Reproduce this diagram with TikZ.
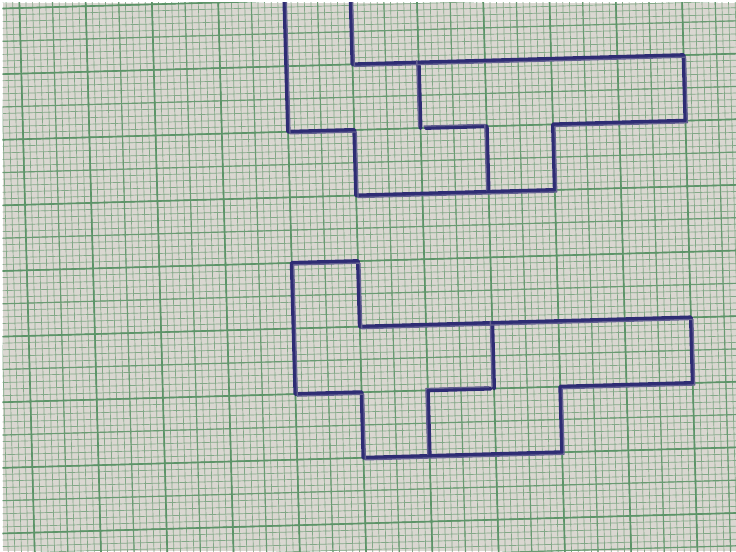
\documentclass[tikz,border=0pt]{standalone}
\usepackage{xcolor}
\usepackage{tikz}

\definecolor{paper}{RGB}{218,215,209}
\definecolor{gridgreen}{RGB}{92,148,104}
\definecolor{ink}{RGB}{46,44,116}

\begin{document}
\begin{tikzpicture}[
  finegrid/.style={draw=gridgreen!70!paper,line width=0.3pt},
  midgrid/.style={draw=gridgreen!90!paper,line width=0.5pt},
  majorgrid/.style={draw=gridgreen,line width=0.7pt},
  penline/.style={draw=ink,line width=1.7pt,line join=round,line cap=round},
  penthin/.style={draw=ink!70!paper,line width=0.6pt,line join=round,line cap=round}
]
\useasboundingbox (0,0) rectangle (11.22,8.40);
\fill[white] (0,0) rectangle (11.22,8.40);
\fill[paper] (0.04,0) rectangle (11.22,8.36);

\begin{scope}
\clip (0.04,0) rectangle (11.22,8.36);
\begin{scope}[shift={(5.457,4.42)},rotate=1.6,xscale=1.01]
% graph paper
\draw[finegrid,step=0.1] (-7,-6) grid (7,6);
\draw[midgrid,step=0.5] (-7,-6) grid (7,6);
\draw[majorgrid,step=1] (-7,-6) grid (7,6);

% upper figure
\draw[penline] (-1,4.3) -- (-1,2) -- (0,2) -- (0,1) -- (3,1) -- (3,2) -- (5,2) -- (5,3) -- (0,3) -- (0,4.3);
\draw[penline] (1,3) -- (1,2);
\draw[penline] (1.08,2) -- (2,2) -- (2,1);
\draw[penthin,xshift=0.8pt,yshift=-0.9pt] (-1,4.3) -- (-1,2) -- (0,2) -- (0,1) -- (3,1) -- (3,2) -- (5,2) -- (5,3) -- (0,3) -- (0,4.3);
\draw[penthin,xshift=-0.8pt,yshift=0.8pt] (1,3) -- (1,2) (1.08,2) -- (2,2) -- (2,1);

% lower figure
\draw[penline] (-1,0) -- (0,0) -- (0,-1) -- (5,-1) -- (5,-2) -- (3,-2) -- (3,-3) -- (0,-3) -- (0,-2) -- (-1,-2) -- cycle;
\draw[penline] (2,-1) -- (2,-2);
\draw[penline] (1.95,-2) -- (1,-2) -- (1,-3);
\draw[penthin,xshift=0.8pt,yshift=-0.9pt] (-1,0) -- (0,0) -- (0,-1) -- (5,-1) -- (5,-2) -- (3,-2) -- (3,-3) -- (0,-3) -- (0,-2) -- (-1,-2) -- cycle;
\draw[penthin,xshift=-0.8pt,yshift=0.8pt] (2,-1) -- (2,-2) (1.95,-2) -- (1,-2) -- (1,-3);
\end{scope}
\end{scope}
\end{tikzpicture}
\end{document}
